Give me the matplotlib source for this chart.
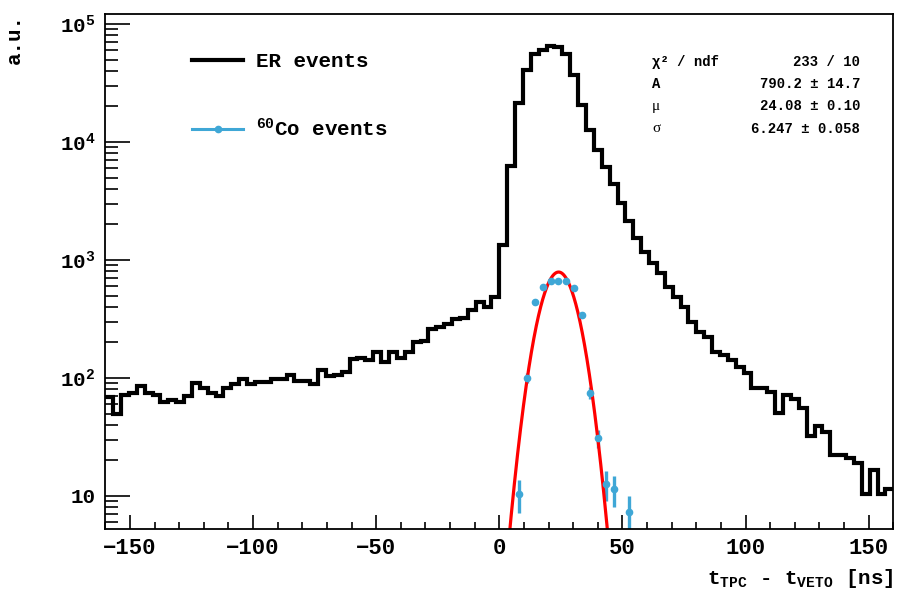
import numpy as np
import matplotlib
matplotlib.use("Agg")
import matplotlib.pyplot as plt
from matplotlib.lines import Line2D
from matplotlib.ticker import MultipleLocator, LogLocator, FuncFormatter, NullFormatter

plt.rcParams["font.family"] = ["Liberation Mono", "DejaVu Sans"]
plt.rcParams["font.weight"] = "bold"
plt.rcParams["axes.labelweight"] = "bold"
plt.rcParams["mathtext.fontset"] = "custom"
plt.rcParams["mathtext.rm"] = "Liberation Mono:bold"
plt.rcParams["mathtext.it"] = "Liberation Mono:bold"
plt.rcParams["mathtext.bf"] = "Liberation Mono:bold"

# ER events histogram: 100 bins of 3.2 ns from -160 to 160 ns
er_lo, er_hi, er_nbins = -160.0, 160.0, 100
er_counts = [
    69, 49.5, 72, 74, 85.5, 74, 72, 63, 65, 63,
    70, 91, 82, 74, 70, 83, 89, 98, 89, 93,
    93, 98, 98, 106, 95, 95, 89, 118, 104, 107,
    112, 144, 149, 142, 167, 137, 167, 149, 167, 202,
    205, 260, 268, 286, 316, 320, 376, 437, 402, 489,
    1340, 6300, 21300, 40700, 55300, 60300, 65500, 64000, 55300, 37000,
    20600, 12650, 8560, 6170, 4370, 3020, 2140, 1530, 1180, 937,
    771, 594, 489, 402, 300, 247, 224, 167, 157, 142,
    123, 110, 83, 83, 76, 50.8, 72, 67, 56, 32,
    39.4, 35, 22.2, 22.2, 20.9, 19.2, 10.4, 16.6, 10.4, 11.4,
]

# 60Co events (bin centres in ns)
co_x = [8.0, 11.2, 14.4, 17.6, 20.8, 24.0, 27.2, 30.4, 33.6, 36.8, 40.0, 43.2, 46.4, 52.8]
co_counts = [10.4, 100, 437, 594, 664, 664, 664, 583, 342, 75, 31, 12.6, 11.5, 7.3]

# Gaussian fit result
fit_A, fit_mu, fit_sigma = 790.2, 24.08, 6.247
stat_names = ["χ² / ndf", "A", "μ", "σ"]
stat_values = ["233 / 10", "790.2 ± 14.7", "24.08 ± 0.10", "6.247 ± 0.058"]

co_color = "#3fa7d6"

fig = plt.figure(figsize=(8.97, 5.90), dpi=100)
W, H = 897.0, 590.0
ax = fig.add_axes([105.3 / W, (H - 529.3) / H, (893.3 - 105.3) / W, (529.3 - 14) / H])

edges = np.linspace(er_lo, er_hi, er_nbins + 1)
ax.stairs(er_counts, edges, color="black", linewidth=3.0, baseline=None)

co_x = np.array(co_x)
co_counts = np.array(co_counts)
ax.errorbar(co_x, co_counts, yerr=np.sqrt(co_counts), fmt="o", color=co_color,
            markersize=4.5, elinewidth=2.4, capsize=0)

xf = np.linspace(0, 50, 500)
ax.plot(xf, fit_A * np.exp(-0.5 * ((xf - fit_mu) / fit_sigma) ** 2), color="red", linewidth=2.3)

ax.set_yscale("log")
ax.set_xlim(er_lo, er_hi)
ax.set_ylim(5.22, 1.215e5)

ax.xaxis.set_major_locator(MultipleLocator(50))
ax.xaxis.set_minor_locator(MultipleLocator(10))
ax.yaxis.set_major_locator(LogLocator(base=10))
ax.yaxis.set_minor_locator(LogLocator(base=10, subs=np.arange(2, 10)))
ax.yaxis.set_minor_formatter(NullFormatter())


def ylab(v, pos):
    e = int(round(np.log10(v)))
    if e == 1:
        return "10"
    return "$10^{%d}$" % e


ax.yaxis.set_major_formatter(FuncFormatter(ylab))

ax.tick_params(which="both", direction="in", top=False, right=False, width=1.2)
ax.tick_params(axis="x", which="major", length=10, labelsize=16, pad=6)
ax.tick_params(axis="x", which="minor", length=5)
ax.tick_params(axis="y", which="major", length=18, labelsize=15, pad=7)
ax.tick_params(axis="y", which="minor", length=9)
for s in ax.spines.values():
    s.set_linewidth(1.3)

ax.set_xlabel("t$_{TPC}$ - t$_{VETO}$ [ns]", loc="right", fontsize=15, labelpad=6)
ax.set_ylabel("a.u.", loc="top", fontsize=15, labelpad=26)

handles = [
    Line2D([], [], color="black", linewidth=3.0),
    Line2D([], [], color=co_color, linewidth=2.2, marker="o", markersize=4.5),
]
fig.legend(handles, ["ER events", "$^{60}$Co events"], loc="upper left",
           bbox_to_anchor=(192 / W, 1 - 52 / H), frameon=False, fontsize=15,
           handlelength=2.45, handletextpad=0.6, labelspacing=2.25,
           borderpad=0, borderaxespad=0)

row_y = [62, 84, 106, 129]
for i, (name, val, yy) in enumerate(zip(stat_names, stat_values, row_y)):
    if name in ("μ", "σ"):
        fig.text(652 / W, 1 - yy / H, name, fontsize=11, ha="left", va="center",
                 family="Liberation Serif", fontweight="normal")
    else:
        fig.text(652 / W, 1 - yy / H, name, fontsize=10, ha="left", va="center")
    fig.text(860 / W, 1 - yy / H, val, fontsize=10, ha="right", va="center")

fig.savefig("out.png", dpi=100)
